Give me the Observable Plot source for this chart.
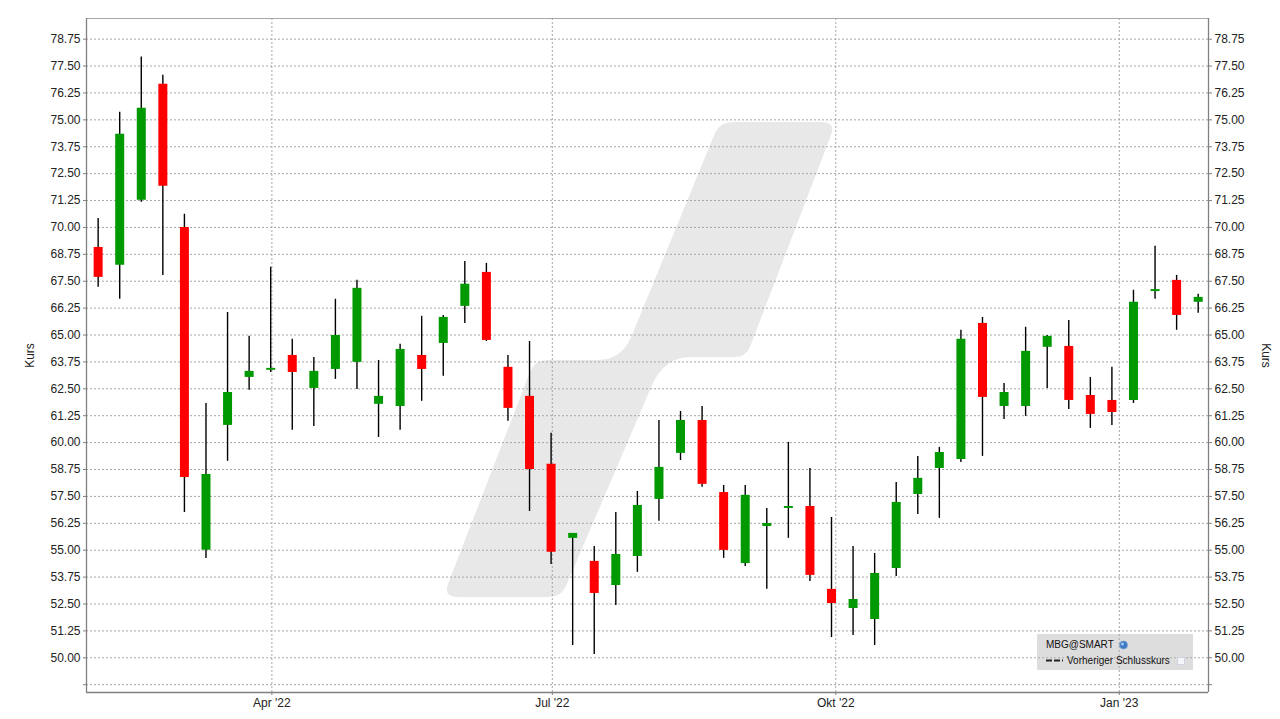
<!DOCTYPE html>
<html>
<head>
<meta charset="utf-8">
<script src="https://cdn.jsdelivr.net/npm/d3@7"></script>
<script src="https://cdn.jsdelivr.net/npm/@observablehq/plot@0.6"></script>
<style>
  html, body { margin: 0; padding: 0; background: #fff; }
  #chart { position: relative; width: 1280px; height: 719px; }
</style>
</head>
<body>
<div id="chart"></div>
<script>
// ---- Data (weekly candles, MBG@SMART) ----
const dates = [
  "2022-02-04","2022-02-11","2022-02-18","2022-02-25","2022-03-04","2022-03-11","2022-03-18","2022-03-25",
  "2022-04-01","2022-04-08","2022-04-15","2022-04-22","2022-04-29","2022-05-06","2022-05-13","2022-05-20",
  "2022-05-27","2022-06-03","2022-06-10","2022-06-17","2022-06-24","2022-07-01","2022-07-08","2022-07-15",
  "2022-07-22","2022-07-29","2022-08-05","2022-08-12","2022-08-19","2022-08-26","2022-09-02","2022-09-09",
  "2022-09-16","2022-09-23","2022-09-30","2022-10-07","2022-10-14","2022-10-21","2022-10-28","2022-11-04",
  "2022-11-11","2022-11-18","2022-11-25","2022-12-02","2022-12-09","2022-12-16","2022-12-23","2022-12-30",
  "2023-01-06","2023-01-13","2023-01-20","2023-01-27"
];
const open = [
  69.07, 68.24, 71.26, 76.65, 70.00, 55.00, 60.80, 63.03,
  63.36, 64.05, 62.52, 63.40, 63.73, 61.78, 61.68, 64.05,
  64.61, 66.33, 67.91, 63.50, 62.15, 58.99, 55.55, 54.48,
  53.36, 54.71, 57.36, 59.50, 61.03, 57.68, 54.38, 56.10,
  56.94, 57.03, 53.18, 52.29, 51.78, 54.15, 57.59, 58.80,
  59.22, 65.54, 61.68, 61.68, 64.43, 64.47, 62.19, 61.96,
  61.96, 67.02, 67.54, 66.52
];
const high = [
  70.42, 75.35, 77.92, 77.07, 70.61, 61.82, 66.05, 64.94,
  68.15, 64.80, 63.96, 66.66, 67.54, 63.82, 64.57, 65.87,
  65.91, 68.42, 68.33, 64.05, 64.70, 60.43, 55.78, 55.17,
  56.75, 57.73, 61.03, 61.45, 61.68, 58.01, 58.01, 56.94,
  60.01, 58.80, 56.52, 55.17, 54.85, 58.15, 59.36, 59.78,
  65.22, 65.82, 62.75, 65.36, 64.98, 65.68, 63.03, 63.50,
  67.08, 69.12, 67.77, 66.89
];
const low = [
  67.22, 66.66, 71.17, 67.77, 56.75, 54.62, 59.13, 62.43,
  63.26, 60.57, 60.75, 62.94, 62.47, 60.24, 60.57, 61.92,
  63.08, 65.54, 64.70, 60.99, 56.80, 54.34, 50.57, 50.15,
  52.43, 53.97, 56.34, 59.17, 57.92, 54.62, 54.24, 53.18,
  55.55, 53.55, 50.94, 51.04, 50.57, 53.78, 56.66, 56.48,
  59.08, 59.36, 61.08, 61.22, 62.52, 61.54, 60.66, 60.80,
  61.82, 66.66, 65.22, 66.01
];
const close = [
  67.68, 74.33, 75.54, 71.91, 58.38, 58.52, 62.33, 63.31,
  63.45, 63.26, 63.31, 64.98, 67.17, 62.15, 64.33, 63.40,
  65.82, 67.36, 64.75, 61.59, 58.75, 54.90, 55.78, 52.99,
  54.80, 57.08, 58.85, 61.03, 58.06, 54.99, 57.55, 56.24,
  57.03, 53.83, 52.52, 52.71, 53.92, 57.22, 58.34, 59.54,
  64.80, 62.10, 62.33, 64.24, 64.94, 61.96, 61.31, 61.40,
  66.52, 67.11, 65.91, 66.75
];

// ---- Tick values / labels ----
const yTicks = [48.75, 50.00, 51.25, 52.50, 53.75, 55.00, 56.25, 57.50, 58.75, 60.00, 61.25, 62.50, 63.75,
                65.00, 66.25, 67.50, 68.75, 70.00, 71.25, 72.50, 73.75, 75.00, 76.25, 77.50, 78.75];
const yTickLabels = ["", "50.00", "51.25", "52.50", "53.75", "55.00", "56.25", "57.50", "58.75", "60.00", "61.25",
                     "62.50", "63.75", "65.00", "66.25", "67.50", "68.75", "70.00", "71.25", "72.50", "73.75",
                     "75.00", "76.25", "77.50", "78.75"];
const xTickDates = ["2022-04-01", "2022-07-01", "2022-10-01", "2023-01-01"];
const xTickLabels = ["Apr '22", "Jul '22", "Okt '22", "Jan '23"];
const yAxisTitle = "Kurs";
const legendSeries = "MBG@SMART";
const legendPrev = "Vorheriger Schlusskurs";

// ---- Build table ----
const candles = dates.map((d, i) => ({
  date: new Date(d + "T00:00:00Z"),
  open: open[i], high: high[i], low: low[i], close: close[i]
}));
const up = candles.filter(d => d.close >= d.open);
const down = candles.filter(d => d.close < d.open);
const xTicks = xTickDates.map(d => new Date(d + "T00:00:00Z"));

const xDomain = [new Date(Date.UTC(2022, 0, 30, 20)), new Date(Date.UTC(2023, 0, 29, 23))];
const yDomain = [48.387, 79.71];

const gridStyle = { stroke: "#a6a6a6", strokeOpacity: 1, strokeDasharray: "2,2", strokeWidth: 1 };
const candleShift = -1.2;

const plot = Plot.plot({
  width: 1280,
  height: 719,
  marginLeft: 86,
  marginRight: 72,
  marginTop: 18,
  marginBottom: 27,
  style: { fontFamily: "'Liberation Sans', Arial, sans-serif", fontSize: "12px", background: "#fff", color: "#222" },
  x: { type: "utc", domain: xDomain },
  y: { domain: yDomain },
  marks: [
    Plot.gridY(yTicks, gridStyle),
    Plot.gridX(xTicks, gridStyle),
    // wicks
    Plot.ruleX(candles, { x: "date", y1: "low", y2: "high", stroke: "#000", strokeWidth: 1.4, dx: candleShift }),
    // bodies
    Plot.ruleX(up, { x: "date", y1: "open", y2: "close", stroke: "#009900", strokeWidth: 9, dx: candleShift }),
    Plot.ruleX(down, { x: "date", y1: "open", y2: "close", stroke: "#ff0000", strokeWidth: 9, dx: candleShift }),
    // frame
    Plot.ruleY([yDomain[1]], { stroke: "#a8a8a8" }),
    Plot.ruleY([yDomain[0]], { stroke: "#808080", strokeWidth: 1.3 }),
    Plot.ruleX([xDomain[0]], { stroke: "#808080", strokeWidth: 1.3 }),
    Plot.ruleX([xDomain[1]], { stroke: "#808080", strokeWidth: 1.3 }),
    // axes
    Plot.axisY(yTicks, { anchor: "left", tickSize: 3, tickPadding: 3, stroke: "#808080", fill: "#222",
      fontSize: 12, tickFormat: d => yTickLabels[yTicks.indexOf(d)], label: null }),
    Plot.axisY(yTicks, { anchor: "right", tickSize: 3, tickPadding: 3, stroke: "#808080", fill: "#222",
      fontSize: 12, tickFormat: d => yTickLabels[yTicks.indexOf(d)], label: null }),
    Plot.axisX(xTicks, { anchor: "bottom", tickSize: 3, tickPadding: 3, stroke: "#808080", fill: "#222",
      fontSize: 12, tickFormat: d => xTickLabels[xTicks.findIndex(t => +t === +d)], label: null }),
    // axis titles
    Plot.text([yAxisTitle], { text: d => d, frameAnchor: "left", dx: -56, rotate: -90,
      textAnchor: "middle", lineAnchor: "middle", fill: "#222", fontSize: 12 }),
    Plot.text([yAxisTitle], { text: d => d, frameAnchor: "right", dx: 57, rotate: 90,
      textAnchor: "middle", lineAnchor: "middle", fill: "#222", fontSize: 12 })
  ]
});

document.getElementById("chart").appendChild(plot);

// ---- Decorative watermark (behind everything) ----
const svg = d3.select(plot);
svg.insert("path", "g")
  .attr("d", "M735,122 L822,122 Q836,122 831,135 L750,347 Q746,357 734,357 L690,357 Q665,357 652,385 " +
             "L566,586 Q561,597 549,597 L458,597 Q443,597 448,584 L530,372 Q535,360 548,360 L598,360 " +
             "Q622,360 632,335 L715,133 Q720,122 735,122 Z")
  .attr("fill", "#e8e8e8");

// ---- Legend box ----
const lg = svg.append("g")
  .attr("font-family", "'Liberation Sans', Arial, sans-serif")
  .attr("font-size", 10)
  .attr("text-anchor", "start");
lg.append("rect").attr("x", 1037).attr("y", 634).attr("width", 156).attr("height", 36)
  .attr("fill", "#b4b4b4").attr("fill-opacity", 0.45);
lg.append("text").attr("x", 1046).attr("y", 648).attr("fill", "#111").attr("text-anchor", "start").text(legendSeries);
const globe = lg.append("g");
globe.append("circle").attr("cx", 1123.5).attr("cy", 645).attr("r", 4).attr("fill", "#3b78c4").attr("stroke", "#7aa0d0").attr("stroke-width", 0.8);
globe.append("circle").attr("cx", 1122.5).attr("cy", 644).attr("r", 1.6).attr("fill", "#9cc4ee");
lg.append("line").attr("x1", 1046).attr("x2", 1063).attr("y1", 660.5).attr("y2", 660.5)
  .attr("stroke", "#222").attr("stroke-width", 2).attr("stroke-dasharray", "6,2");
lg.append("text").attr("x", 1067).attr("y", 664).attr("fill", "#111").attr("text-anchor", "start").text(legendPrev);
lg.append("rect").attr("x", 1177.5).attr("y", 657.5).attr("width", 7).attr("height", 7)
  .attr("fill", "#f3f5fb").attr("stroke", "#d0d4e0").attr("stroke-width", 1);
</script>
</body>
</html>
